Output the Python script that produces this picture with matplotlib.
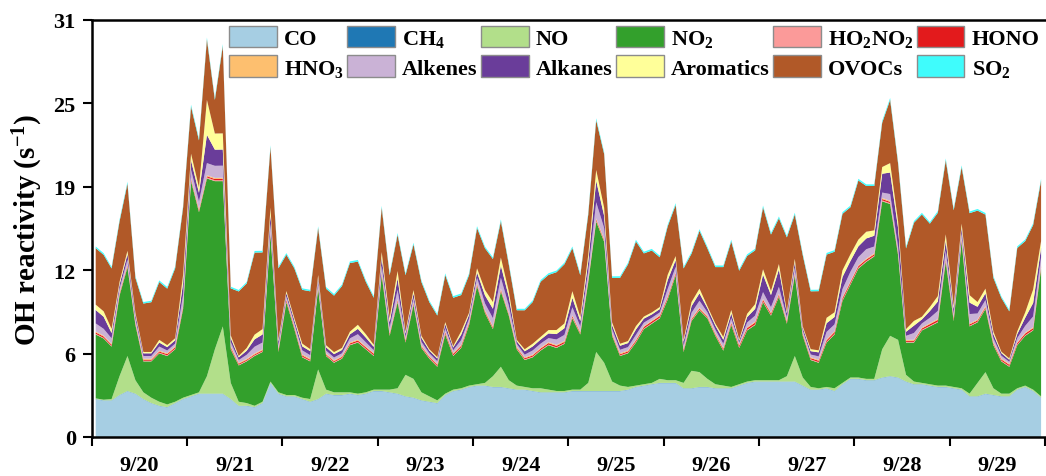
import numpy as np
import pandas as pd
import matplotlib
matplotlib.use('Agg')
import matplotlib.pyplot as plt
import matplotlib.dates as mdates
from matplotlib.patches import Patch

plt.rcParams['font.family'] = ['Liberation Serif', 'DejaVu Serif']
plt.rcParams['font.weight'] = 'bold'
plt.rcParams['mathtext.fontset'] = 'custom'
plt.rcParams['mathtext.rm'] = 'Liberation Serif:bold'
plt.rcParams['mathtext.bf'] = 'Liberation Serif:bold'
plt.rcParams['mathtext.it'] = 'Liberation Serif:bold:italic'

# 2-hourly samples, 9/20 01:00 .. 9/29 23:00
times = pd.date_range('2019-09-20 01:00', periods=120, freq='2h')

co = [2.8, 2.7, 2.7, 3.1, 3.4, 3.2, 2.8, 2.5, 2.3, 2.2,
      2.5, 2.8, 3.0, 3.2, 3.2, 3.2, 3.2, 2.8, 2.3, 2.3,
      2.2, 2.5, 4.0, 3.2, 3.0, 3.0, 2.8, 2.6, 2.8, 3.2,
      3.1, 3.1, 3.2, 3.1, 3.2, 3.4, 3.4, 3.3, 3.2, 3.0,
      2.9, 2.7, 2.6, 2.5, 3.1, 3.4, 3.5, 3.7, 3.8, 3.8,
      3.7, 3.7, 3.6, 3.5, 3.5, 3.4, 3.3, 3.3, 3.3, 3.3,
      3.4, 3.4, 3.4, 3.4, 3.4, 3.4, 3.4, 3.5, 3.7, 3.8,
      3.9, 4.0, 4.0, 4.0, 3.6, 3.6, 3.7, 3.7, 3.6, 3.6,
      3.6, 3.8, 4.0, 4.1, 4.1, 4.1, 4.1, 4.1, 4.1, 3.8,
      3.5, 3.5, 3.6, 3.4, 3.9, 4.3, 4.3, 4.2, 4.2, 4.4,
      4.5, 4.4, 4.1, 3.9, 3.9, 3.8, 3.7, 3.7, 3.6, 3.5,
      3.0, 3.0, 3.2, 3.1, 3.0, 3.0, 3.5, 3.7, 3.4, 2.9]

ch4 = [0.02, 0.02, 0.02, 0.02, 0.02, 0.02, 0.02, 0.02, 0.02, 0.02,
       0.02, 0.02, 0.02, 0.02, 0.02, 0.02, 0.02, 0.02, 0.02, 0.02,
       0.02, 0.02, 0.02, 0.02, 0.02, 0.02, 0.02, 0.02, 0.02, 0.02,
       0.02, 0.02, 0.02, 0.02, 0.02, 0.02, 0.02, 0.02, 0.02, 0.02,
       0.02, 0.02, 0.02, 0.02, 0.02, 0.02, 0.02, 0.02, 0.02, 0.02,
       0.02, 0.02, 0.02, 0.02, 0.02, 0.02, 0.02, 0.02, 0.02, 0.02,
       0.02, 0.02, 0.02, 0.02, 0.02, 0.02, 0.02, 0.02, 0.02, 0.02,
       0.02, 0.02, 0.02, 0.02, 0.02, 0.02, 0.02, 0.02, 0.02, 0.02,
       0.02, 0.02, 0.02, 0.02, 0.02, 0.02, 0.02, 0.02, 0.02, 0.02,
       0.02, 0.02, 0.02, 0.02, 0.02, 0.02, 0.02, 0.02, 0.02, 0.02,
       0.02, 0.02, 0.02, 0.02, 0.02, 0.02, 0.02, 0.02, 0.02, 0.02,
       0.02, 0.02, 0.02, 0.02, 0.02, 0.02, 0.02, 0.02, 0.02, 0.02]

no = [0.05, 0.05, 0.1, 1.4, 2.6, 1.0, 0.5, 0.4, 0.3, 0.2,
      0.1, 0.1, 0.1, 0.1, 1.3, 3.3, 5.0, 1.2, 0.3, 0.2,
      0.1, 0.1, 0.1, 0.1, 0.1, 0.1, 0.1, 0.2, 2.2, 0.3,
      0.2, 0.2, 0.1, 0.1, 0.1, 0.1, 0.1, 0.2, 0.4, 1.6,
      1.4, 0.6, 0.4, 0.2, 0.1, 0.1, 0.1, 0.1, 0.1, 0.2,
      0.8, 1.5, 0.6, 0.3, 0.2, 0.2, 0.3, 0.2, 0.1, 0.1,
      0.1, 0.1, 0.6, 2.9, 2.1, 0.7, 0.4, 0.2, 0.1, 0.1,
      0.1, 0.3, 0.2, 0.2, 0.4, 1.3, 1.1, 0.6, 0.3, 0.2,
      0.1, 0.1, 0.1, 0.1, 0.1, 0.1, 0.1, 0.4, 1.9, 0.6,
      0.2, 0.1, 0.1, 0.2, 0.1, 0.1, 0.1, 0.1, 0.1, 2.1,
      3.0, 2.8, 0.5, 0.2, 0.1, 0.1, 0.1, 0.1, 0.1, 0.1,
      0.2, 1.0, 1.6, 0.5, 0.2, 0.2, 0.1, 0.1, 0.1, 0.1]

no2 = [4.75, 4.55, 3.9, 6.0, 6.6, 4.1, 2.3, 2.7, 3.6, 3.6,
       3.9, 6.6, 15.9, 13.4, 14.7, 12.5, 10.8, 2.5, 2.7, 3.1,
       3.7, 3.7, 10.9, 3.0, 6.9, 4.9, 3.0, 2.8, 6.0, 2.5,
       2.2, 2.5, 3.5, 3.8, 3.2, 2.5, 8.5, 4.0, 6.4, 2.4,
       5.5, 3.3, 2.8, 2.5, 4.4, 2.5, 3.0, 4.5, 7.3, 5.2,
       3.5, 5.6, 4.8, 2.7, 2.0, 2.3, 2.8, 3.3, 3.2, 3.5,
       5.3, 4.1, 7.5, 9.7, 9.0, 3.4, 2.2, 2.5, 3.2, 4.1,
       4.4, 4.5, 6.0, 7.8, 2.3, 3.7, 4.6, 4.5, 3.6, 2.6,
       4.6, 2.7, 3.8, 4.1, 5.8, 4.8, 6.2, 3.9, 6.0, 3.1,
       2.0, 1.9, 3.3, 4.0, 6.1, 6.9, 8.1, 8.7, 9.1, 11.0,
       9.8, 6.3, 2.4, 2.9, 3.9, 4.3, 4.7, 9.2, 4.9, 10.9,
       5.0, 4.5, 4.7, 3.2, 2.4, 2.0, 3.2, 3.7, 4.4, 9.5]

ho2no2 = [0.05, 0.05, 0.05, 0.06, 0.06, 0.05, 0.05, 0.05, 0.05, 0.05,
          0.05, 0.06, 0.08, 0.07, 0.08, 0.07, 0.07, 0.05, 0.05, 0.05,
          0.05, 0.05, 0.07, 0.05, 0.06, 0.05, 0.05, 0.05, 0.06, 0.05,
          0.05, 0.05, 0.05, 0.05, 0.05, 0.05, 0.06, 0.05, 0.06, 0.05,
          0.05, 0.05, 0.05, 0.05, 0.05, 0.05, 0.05, 0.05, 0.06, 0.05,
          0.05, 0.06, 0.05, 0.05, 0.05, 0.05, 0.05, 0.05, 0.05, 0.05,
          0.06, 0.05, 0.06, 0.07, 0.07, 0.05, 0.05, 0.05, 0.05, 0.05,
          0.05, 0.05, 0.06, 0.06, 0.05, 0.05, 0.05, 0.05, 0.05, 0.05,
          0.05, 0.05, 0.05, 0.05, 0.06, 0.05, 0.06, 0.05, 0.06, 0.05,
          0.05, 0.05, 0.05, 0.05, 0.06, 0.06, 0.06, 0.06, 0.06, 0.07,
          0.07, 0.06, 0.05, 0.05, 0.05, 0.05, 0.05, 0.06, 0.05, 0.06,
          0.05, 0.05, 0.05, 0.05, 0.05, 0.05, 0.05, 0.05, 0.05, 0.06]

hono = [0.10, 0.10, 0.09, 0.08, 0.08, 0.08, 0.07, 0.07, 0.08, 0.09,
        0.10, 0.10, 0.08, 0.08, 0.08, 0.09, 0.10, 0.10, 0.08, 0.07,
        0.07, 0.08, 0.09, 0.10, 0.10, 0.10, 0.09, 0.08, 0.08, 0.07,
        0.07, 0.08, 0.09, 0.10, 0.10, 0.11, 0.10, 0.09, 0.08, 0.08,
        0.07, 0.07, 0.08, 0.09, 0.10, 0.11, 0.11, 0.10, 0.09, 0.08,
        0.08, 0.08, 0.07, 0.07, 0.08, 0.09, 0.10, 0.11, 0.11, 0.10,
        0.09, 0.08, 0.08, 0.08, 0.07, 0.07, 0.08, 0.09, 0.10, 0.11,
        0.12, 0.12, 0.11, 0.10, 0.09, 0.08, 0.08, 0.07, 0.08, 0.09,
        0.10, 0.12, 0.12, 0.13, 0.12, 0.11, 0.10, 0.09, 0.08, 0.08,
        0.09, 0.10, 0.12, 0.13, 0.14, 0.13, 0.12, 0.11, 0.10, 0.10,
        0.09, 0.08, 0.08, 0.09, 0.10, 0.12, 0.13, 0.12, 0.12, 0.11,
        0.10, 0.09, 0.08, 0.08, 0.09, 0.10, 0.11, 0.12, 0.12, 0.11]

hno3 = [0.07, 0.07, 0.07, 0.07, 0.08, 0.08, 0.08, 0.08, 0.07, 0.07,
        0.07, 0.07, 0.08, 0.08, 0.08, 0.08, 0.08, 0.08, 0.07, 0.07,
        0.07, 0.07, 0.07, 0.07, 0.07, 0.07, 0.08, 0.08, 0.08, 0.08,
        0.07, 0.07, 0.07, 0.07, 0.07, 0.07, 0.07, 0.07, 0.08, 0.08,
        0.08, 0.08, 0.07, 0.07, 0.07, 0.07, 0.07, 0.07, 0.07, 0.08,
        0.08, 0.08, 0.08, 0.08, 0.07, 0.07, 0.07, 0.07, 0.07, 0.07,
        0.07, 0.07, 0.08, 0.08, 0.08, 0.08, 0.08, 0.07, 0.07, 0.07,
        0.07, 0.07, 0.07, 0.07, 0.07, 0.08, 0.08, 0.08, 0.08, 0.07,
        0.07, 0.07, 0.07, 0.07, 0.07, 0.07, 0.08, 0.08, 0.08, 0.07,
        0.07, 0.07, 0.07, 0.07, 0.07, 0.07, 0.07, 0.07, 0.08, 0.08,
        0.08, 0.08, 0.07, 0.07, 0.07, 0.07, 0.07, 0.07, 0.07, 0.07,
        0.07, 0.07, 0.08, 0.08, 0.08, 0.07, 0.07, 0.07, 0.07, 0.07]

alkenes = [0.6, 0.5, 0.4, 0.3, 0.35, 0.25, 0.2, 0.2, 0.3, 0.2,
           0.2, 0.8, 0.6, 0.55, 0.9, 0.9, 0.9, 0.3, 0.2, 0.3,
           0.5, 0.5, 0.6, 0.25, 0.2, 0.2, 0.3, 0.25, 0.3, 0.2,
           0.2, 0.2, 0.3, 0.4, 0.3, 0.2, 0.5, 0.4, 0.7, 0.2,
           0.3, 0.25, 0.2, 0.2, 0.25, 0.2, 0.35, 0.25, 0.4, 0.5,
           0.6, 0.8, 0.55, 0.2, 0.2, 0.3, 0.3, 0.3, 0.4, 0.45,
           0.6, 0.4, 0.6, 1.2, 0.8, 0.3, 0.25, 0.25, 0.35, 0.25,
           0.2, 0.2, 0.55, 0.4, 0.25, 0.4, 0.5, 0.25, 0.25, 0.3,
           0.3, 0.15, 0.35, 0.45, 0.5, 0.4, 0.5, 0.25, 0.35, 0.2,
           0.2, 0.25, 0.55, 0.5, 0.6, 0.7, 0.6, 0.7, 0.5, 0.4,
           0.5, 0.4, 0.3, 0.5, 0.3, 0.4, 0.6, 0.6, 0.3, 0.4,
           0.7, 0.45, 0.45, 0.3, 0.2, 0.15, 0.3, 0.5, 0.8, 0.6]

alkanes = [1.0, 0.9, 0.4, 0.3, 0.4, 0.3, 0.2, 0.2, 0.3, 0.25,
           0.25, 0.9, 0.7, 0.65, 2.1, 1.2, 1.2, 0.3, 0.2, 0.3,
           0.55, 0.6, 0.7, 0.3, 0.25, 0.25, 0.3, 0.3, 0.3, 0.25,
           0.25, 0.25, 0.3, 0.4, 0.35, 0.25, 0.6, 0.4, 0.85, 0.25,
           0.35, 0.3, 0.2, 0.2, 0.3, 0.2, 0.4, 0.3, 0.4, 0.6,
           0.7, 0.9, 0.65, 0.2, 0.25, 0.3, 0.3, 0.35, 0.4, 0.5,
           0.7, 0.4, 0.7, 1.6, 0.9, 0.3, 0.3, 0.3, 0.4, 0.3,
           0.25, 0.25, 0.65, 0.5, 0.3, 0.5, 0.55, 0.3, 0.3, 0.3,
           0.35, 0.15, 0.4, 0.5, 1.3, 0.9, 1.3, 0.3, 0.4, 0.2,
           0.25, 0.3, 0.65, 0.55, 0.9, 0.8, 0.8, 0.8, 0.8, 1.4,
           1.6, 1.4, 0.3, 0.55, 0.3, 0.5, 0.7, 0.7, 0.35, 0.4,
           0.85, 0.5, 0.5, 0.3, 0.2, 0.15, 0.3, 0.6, 1.0, 0.7]

aromatics = [0.4, 0.4, 0.3, 0.2, 0.25, 0.15, 0.1, 0.1, 0.2, 0.15,
             0.15, 0.6, 0.5, 0.4, 2.6, 1.2, 1.2, 0.2, 0.1, 0.2,
             0.35, 0.4, 0.5, 0.15, 0.15, 0.15, 0.2, 0.15, 0.2, 0.15,
             0.15, 0.15, 0.2, 0.3, 0.25, 0.15, 0.4, 0.3, 0.55, 0.15,
             0.25, 0.15, 0.1, 0.1, 0.15, 0.1, 0.25, 0.15, 0.3, 0.4,
             0.5, 0.6, 0.4, 0.1, 0.15, 0.2, 0.2, 0.25, 0.3, 0.35,
             0.5, 0.3, 0.5, 0.8, 0.6, 0.2, 0.15, 0.15, 0.25, 0.15,
             0.15, 0.15, 0.4, 0.3, 0.15, 0.3, 0.35, 0.15, 0.15, 0.2,
             0.25, 0.1, 0.25, 0.35, 0.4, 0.3, 0.4, 0.15, 0.25, 0.1,
             0.15, 0.15, 0.4, 0.35, 0.5, 0.5, 0.5, 0.5, 0.4, 0.5,
             0.7, 0.5, 0.2, 0.35, 0.2, 0.3, 0.4, 0.5, 0.25, 0.3,
             0.55, 0.35, 0.35, 0.2, 0.1, 0.1, 0.2, 0.4, 1.0, 0.5]

ovocs = [4.2, 4.2, 4.5, 4.5, 5.0, 2.6, 3.6, 3.7, 4.3, 4.2,
         5.2, 5.0, 3.5, 3.5, 4.5, 2.5, 6.5, 3.5, 4.8, 4.8,
         6.1, 5.7, 4.5, 5.3, 2.7, 3.7, 4.0, 4.3, 3.5, 4.2,
         4.2, 4.6, 5.1, 4.7, 3.9, 3.5, 3.3, 3.2, 2.7, 4.2,
         3.4, 4.0, 3.5, 3.1, 3.5, 3.6, 2.7, 2.8, 3.0, 3.1,
         3.2, 2.7, 2.0, 2.2, 2.9, 3.1, 4.1, 4.1, 4.3, 4.4,
         3.2, 3.1, 3.0, 3.7, 4.0, 3.3, 4.9, 5.7, 6.3, 4.7,
         4.6, 3.7, 3.6, 3.8, 5.3, 3.6, 4.3, 4.3, 4.2, 5.2,
         5.1, 5.1, 4.3, 4.0, 4.6, 4.2, 3.4, 5.5, 3.3, 5.3,
         4.3, 4.4, 4.7, 4.5, 4.2, 3.5, 4.4, 3.4, 3.3, 3.3,
         4.7, 4.3, 6.0, 7.3, 7.6, 6.2, 6.2, 5.5, 7.1, 4.2,
         6.1, 6.8, 5.5, 4.0, 4.0, 3.5, 6.2, 5.3, 4.8, 4.5]

so2 = [0.12, 0.12, 0.11, 0.12, 0.13, 0.12, 0.11, 0.11, 0.12, 0.12,
       0.12, 0.13, 0.14, 0.13, 0.13, 0.12, 0.13, 0.12, 0.11, 0.11,
       0.12, 0.12, 0.13, 0.12, 0.12, 0.12, 0.11, 0.11, 0.12, 0.12,
       0.12, 0.12, 0.12, 0.12, 0.12, 0.12, 0.13, 0.12, 0.12, 0.12,
       0.12, 0.12, 0.11, 0.11, 0.12, 0.12, 0.12, 0.12, 0.13, 0.12,
       0.12, 0.13, 0.12, 0.11, 0.11, 0.12, 0.12, 0.12, 0.12, 0.12,
       0.12, 0.12, 0.13, 0.14, 0.13, 0.12, 0.12, 0.12, 0.12, 0.12,
       0.12, 0.12, 0.12, 0.13, 0.12, 0.12, 0.12, 0.12, 0.12, 0.12,
       0.12, 0.12, 0.12, 0.12, 0.13, 0.12, 0.13, 0.12, 0.13, 0.12,
       0.11, 0.11, 0.12, 0.12, 0.12, 0.12, 0.12, 0.12, 0.12, 0.13,
       0.14, 0.13, 0.12, 0.12, 0.12, 0.12, 0.12, 0.13, 0.12, 0.13,
       0.12, 0.12, 0.12, 0.12, 0.11, 0.11, 0.12, 0.12, 0.12, 0.13]

species = ['CO', 'CH$_4$', 'NO', 'NO$_2$', 'HO$_2$NO$_2$', 'HONO',
           'HNO$_3$', 'Alkenes', 'Alkanes', 'Aromatics', 'OVOCs', 'SO$_2$']
colors = ['#a6cee3', '#1f78b4', '#b2df8a', '#33a02c', '#fb9a99', '#e31a1c',
          '#fdbf6f', '#cab2d6', '#6a3d9a', '#ffff99', '#b15928', '#3ffcfc']
series = [co, ch4, no, no2, ho2no2, hono, hno3, alkenes, alkanes, aromatics, ovocs, so2]

fig = plt.figure(figsize=(10.46, 4.77), dpi=100)
ax = fig.add_axes([0.0877, 0.0818, 0.9114, 0.8742])

ax.stackplot(times, *series, colors=colors, linewidth=0)

ax.set_xlim(pd.Timestamp('2019-09-20'), pd.Timestamp('2019-09-30'))
ax.set_ylim(0, 31)
yt = np.linspace(0, 31, 6)
ax.set_yticks(yt)
ax.set_yticklabels(['%.0f' % v for v in yt])

ax.xaxis.set_major_locator(mdates.DayLocator())
ax.xaxis.set_major_formatter(plt.NullFormatter())
ax.xaxis.set_minor_locator(mdates.HourLocator(byhour=12))
ax.xaxis.set_minor_formatter(plt.FuncFormatter(
    lambda v, pos: '%d/%d' % (mdates.num2date(v).month, mdates.num2date(v).day)))

ax.tick_params(axis='both', which='major', direction='out', length=6.5, width=1.5, labelsize=16)
ax.tick_params(axis='x', which='minor', length=0, pad=13, labelsize=16)
ax.tick_params(axis='y', which='major', pad=5)
for sp in ax.spines.values():
    sp.set_linewidth(1.8)
ax.spines['right'].set_visible(False)

ax.set_ylabel('OH reactivity (s$^{-1}$)', fontsize=21, fontweight='bold')
ax.yaxis.set_label_coords(-0.049, 0.5)

# legend fills column-first, so order pairs of rows
order = [0, 6, 1, 7, 2, 8, 3, 9, 4, 10, 5, 11]
handles = [Patch(facecolor=colors[i], edgecolor='#8c8c8c', linewidth=1.0) for i in order]
ax.legend(handles, [species[i] for i in order], ncol=6, loc='upper right',
          bbox_to_anchor=(1.0, 1.0), frameon=False, fontsize=16,
          handlelength=2.15, handleheight=1.1, handletextpad=0.32,
          columnspacing=0.15, labelspacing=0.3, borderpad=0.2, borderaxespad=0.05)

fig.savefig('out.png', dpi=100)
